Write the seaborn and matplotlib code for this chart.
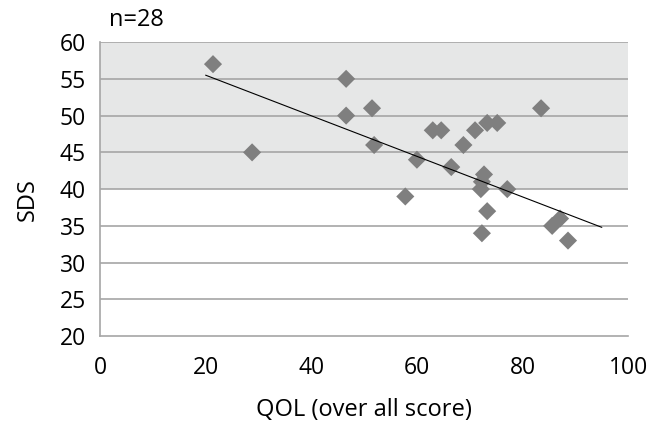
import numpy as np
import pandas as pd
import matplotlib
matplotlib.use("Agg")
import matplotlib.pyplot as plt
import seaborn as sns

# QOL vs SDS scatter
qol = [21.4, 28.8, 46.6, 46.6, 51.5, 51.9, 57.8, 60.0, 63.0, 64.6, 66.5, 68.8,
       71.0, 73.3, 75.2, 83.5, 72.7, 72.3, 72.1, 77.1, 73.3, 72.3, 85.6, 87.1, 88.6]
sds = [57, 45, 55, 50, 51, 46, 39, 44, 48, 48, 43, 46,
       48, 49, 49, 51, 42, 41, 40, 40, 37, 34, 35, 36, 33]
# linha de tendencia (Excel)
trend_x = [20, 95]
trend_y = [55.5, 34.8]
band = (40, 60)
n_label = "n=28"

df = pd.DataFrame({"QOL": qol, "SDS": sds})

sns.set_style("white")
plt.rcParams['font.family'] = ['Open Sans', 'DejaVu Sans']
plt.rcParams['text.color'] = 'black'
plt.rcParams['axes.labelcolor'] = 'black'

fig = plt.figure(figsize=(6.49, 4.25), dpi=100)
ax = fig.add_axes([0.154, 0.209, 0.814, 0.692])

ax.axhspan(band[0], band[1], color="#e6e7e7", zorder=0, lw=0)
for v in range(25, 61, 5):
    ax.axhline(v, color="#a6a6a6", lw=1.2, zorder=1)

sns.scatterplot(data=df, x="QOL", y="SDS", marker="D", s=85, color="#7f7f7f",
                edgecolor="none", ax=ax, zorder=3)
sns.lineplot(x=trend_x, y=trend_y, color="black", lw=0.8, ax=ax, zorder=4)

ax.set_xlim(0, 100)
ax.set_ylim(20, 60)
ax.set_xticks(range(0, 101, 20))
ax.set_yticks(range(20, 61, 5))

for s in ["top", "right"]:
    ax.spines[s].set_visible(False)
for s in ["left", "bottom"]:
    ax.spines[s].set_color("#a6a6a6")
    ax.spines[s].set_linewidth(1.2)

ax.tick_params(axis="both", direction="out", length=5, width=1.2, color="#a6a6a6",
               labelsize=16.5, labelcolor="black")
ax.tick_params(axis="y", pad=5)
ax.tick_params(axis="x", pad=9)

ax.set_xlabel("QOL (over all score)", fontsize=17, va="center")
ax.xaxis.set_label_coords(0.5, -0.252)
ax.set_ylabel("SDS", fontsize=17, va="center")
ax.yaxis.set_label_coords(-0.136, 0.463)
fig.text(0.21, 0.953, n_label, fontsize=17, ha="center", va="center")

fig.savefig("out.png", dpi=100)
